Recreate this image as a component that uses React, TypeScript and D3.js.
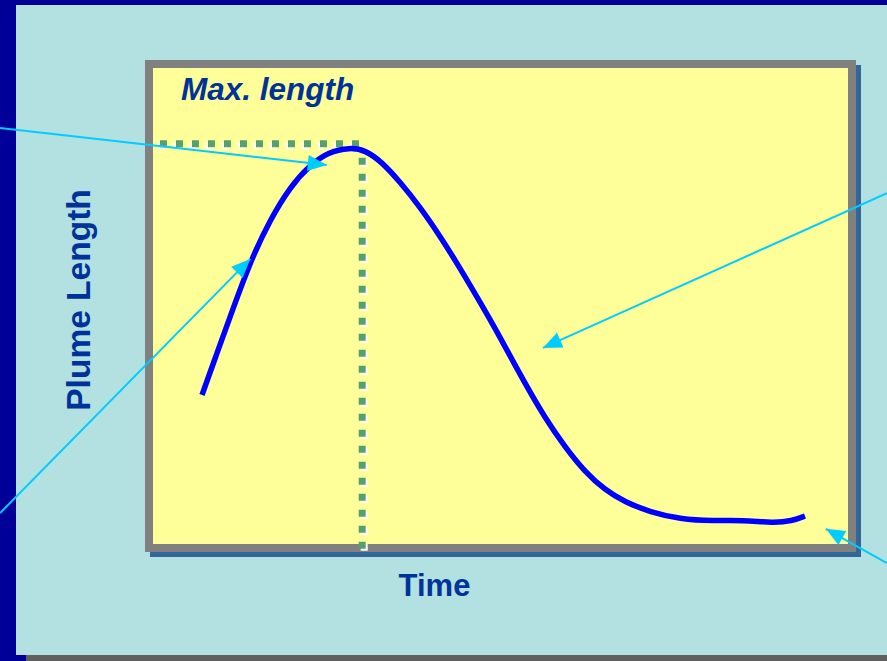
import React from "react";
import * as d3 from "d3";

// Curve samples: time (0-100) vs plume length (0-100)
const curveTime = [7.05, 9.06, 11.08, 13.96, 16.83, 19.71, 22.59, 25.18, 28.35, 30.5, 32.95, 35.54, 38.42, 41.29, 44.17, 47.05, 49.93, 53.24, 56.4, 59.28, 62.16, 65.04, 67.91, 71.51, 75.83, 80.58, 84.89, 89.21, 91.94, 93.81];
const curveLength = [31.3, 39.5, 47.69, 59.24, 68.07, 75.0, 79.62, 82.34, 83.3, 82.76, 80.25, 76.05, 70.8, 64.71, 57.98, 50.84, 43.49, 34.45, 26.47, 20.38, 15.13, 11.34, 8.82, 6.72, 5.25, 4.83, 5.04, 4.41, 4.83, 5.88];

// Max-length marker
const peakTime = 30.1;
const peakLength = 84.1;
const markerStartTime = 1.0;
const markerBottomLength = -1.0;

// Callout arrows: tail -> tip in data units (tails lie outside the plot)
const arrowTailTime = [-22.0, -22.0, 105.6, 105.6];
const arrowTailLength = [87.4, 6.5, 73.7, -4.0];
const arrowTipTime = [25.0, 14.0, 56.1, 96.8];
const arrowTipLength = [79.6, 59.9, 41.2, 3.2];

const title = "Max. length";
const xLabel = "Time";
const yLabel = "Plume Length";

const W = 887;
const H = 661;
const font = "'Liberation Sans', Arial, Helvetica, sans-serif";

export default function App() {
  const inner = { left: 153, right: 848, top: 68, bottom: 544 };
  const x = d3.scaleLinear().domain([0, 100]).range([inner.left, inner.right]);
  const y = d3.scaleLinear().domain([0, 100]).range([inner.bottom, inner.top]);

  const pts: [number, number][] = curveTime.map((t, i) => [t, curveLength[i]]);
  const line = d3
    .line<[number, number]>()
    .x((d) => x(d[0]))
    .y((d) => y(d[1]))
    .curve(d3.curveBasis);

  const hPath = `M${x(markerStartTime)},${y(peakLength)}H${x(peakTime)}`;
  const vPath = `M${x(peakTime)},${y(markerBottomLength)}V${y(peakLength) + 6}`;

  return (
    <svg
      width={W}
      height={H}
      style={{ position: "absolute", left: 0, top: 0, display: "block" }}
      xmlns="http://www.w3.org/2000/svg"
    >
      <defs>
        <marker
          id="ah"
          markerUnits="userSpaceOnUse"
          viewBox="-20 -9 21 18"
          refX={0}
          refY={0}
          markerWidth={21}
          markerHeight={18}
          orient="auto"
        >
          <path d="M0,0 L-19,-8 L-19,8 Z" fill="#00ccff" />
        </marker>
      </defs>
      {/* slide background */}
      <rect x={0} y={0} width={W} height={H} fill="#000099" />
      <rect x={26} y={15} width={W - 26} height={H - 15} fill="#5f5f5f" />
      <rect x={16} y={5} width={W - 16} height={650} fill="#b3e0e0" />

      {/* plot box */}
      <rect x={150} y={65} width={711} height={492} fill="#336699" />
      <rect x={145} y={60} width={711} height={492} fill="#808080" />
      <rect
        x={inner.left}
        y={inner.top}
        width={inner.right - inner.left}
        height={inner.bottom - inner.top}
        fill="#ffff99"
      />

      {/* max length dotted markers (white shadow + green) */}
      <g fill="none" strokeWidth={7} strokeDasharray="7 9">
        <path d={hPath} stroke="#ffffff" transform="translate(-2,2)" />
        <path d={vPath} stroke="#ffffff" transform="translate(2,2)" />
        <path d={hPath} stroke="#589f70" />
        <path d={vPath} stroke="#589f70" />
      </g>

      {/* curve */}
      <path d={line(pts) || ""} fill="none" stroke="#0000ff" strokeWidth={5.5} />

      {/* title */}
      <text
        x={181}
        y={100}
        fontFamily={font}
        fontSize={31.5}
        fontWeight="bold"
        fontStyle="italic"
        fill="#003399"
      >
        {title}
      </text>

      {/* axis labels */}
      <text
        x={(inner.left + inner.right) / 2 - 66}
        y={596}
        textAnchor="middle"
        fontFamily={font}
        fontSize={31}
        fontWeight="bold"
        fill="#003399"
      >
        {xLabel}
      </text>
      <text
        transform={`translate(90,300) rotate(-90)`}
        textAnchor="middle"
        fontFamily={font}
        fontSize={33.5}
        fontWeight="bold"
        fill="#003399"
      >
        {yLabel}
      </text>

      {/* callout arrows */}
      {arrowTailTime.map((t, i) => (
        <line
          key={i}
          x1={x(t)}
          y1={y(arrowTailLength[i])}
          x2={x(arrowTipTime[i])}
          y2={y(arrowTipLength[i])}
          stroke="#00ccff"
          strokeWidth={2}
          markerEnd="url(#ah)"
        />
      ))}
    </svg>
  );
}
